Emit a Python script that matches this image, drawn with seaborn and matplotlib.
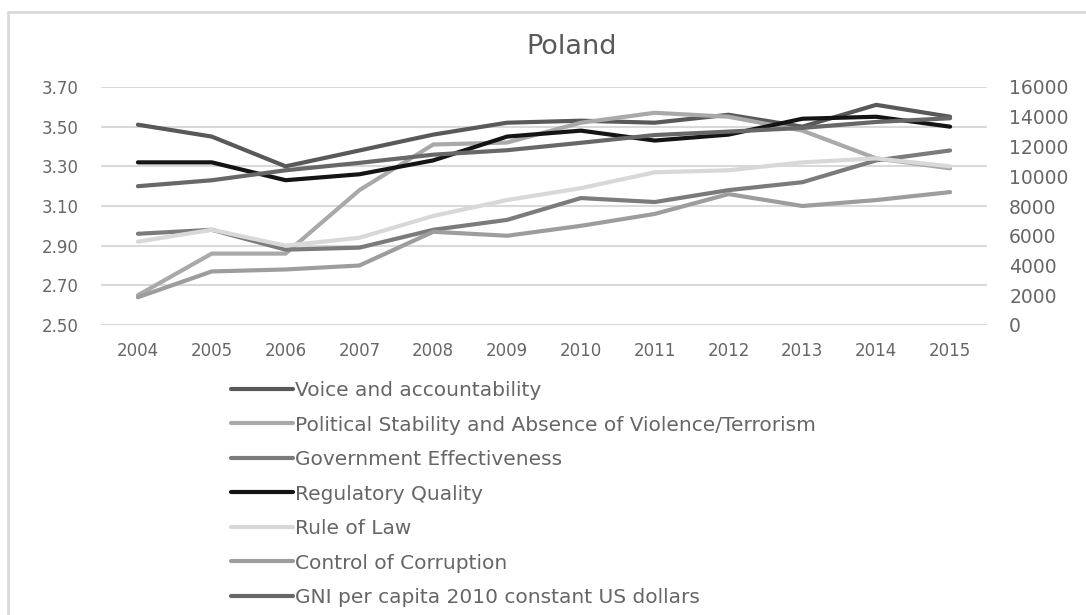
import matplotlib
matplotlib.use("Agg")
import matplotlib.pyplot as plt
import seaborn as sns
import pandas as pd
from matplotlib.lines import Line2D

# Worldwide Governance Indicators (shifted scale) and GNI per capita for Poland
years = [2004, 2005, 2006, 2007, 2008, 2009, 2010, 2011, 2012, 2013, 2014, 2015]
voice = [3.51, 3.45, 3.30, 3.38, 3.46, 3.52, 3.53, 3.52, 3.56, 3.50, 3.61, 3.55]
pol_stability = [2.65, 2.86, 2.86, 3.18, 3.41, 3.42, 3.52, 3.57, 3.55, 3.48, 3.34, 3.29]
gov_effect = [2.96, 2.98, 2.88, 2.89, 2.98, 3.03, 3.14, 3.12, 3.18, 3.22, 3.33, 3.38]
reg_quality = [3.32, 3.32, 3.23, 3.26, 3.33, 3.45, 3.48, 3.43, 3.46, 3.54, 3.55, 3.50]
rule_of_law = [2.92, 2.98, 2.90, 2.94, 3.05, 3.13, 3.19, 3.27, 3.28, 3.32, 3.34, 3.30]
corruption = [2.64, 2.77, 2.78, 2.80, 2.97, 2.95, 3.00, 3.06, 3.16, 3.10, 3.13, 3.17]
gni = [9330, 9730, 10400, 10900, 11450, 11750, 12250, 12770, 13000, 13250, 13650, 13900]

labels = [
    "Voice and accountability",
    "Political Stability and Absence of Violence/Terrorism",
    "Government Effectiveness",
    "Regulatory Quality",
    "Rule of Law",
    "Control of Corruption",
    "GNI per capita 2010 constant US dollars",
]
colors = ["#595959", "#a9a9a9", "#7b7b7b", "#141414", "#d8d8d8", "#9d9d9d", "#686868"]
left_series = [voice, pol_stability, gov_effect, reg_quality, rule_of_law, corruption]

sns.set_theme(style="white")
plt.rcParams["font.family"] = ["DejaVu Sans"]

W, H = 1086, 615
fig = plt.figure(figsize=(W / 100, H / 100), dpi=100)
fig.patch.set_facecolor("white")

ax_l, ax_r, ax_t, ax_b = 101, 987, 87, 325
ax = fig.add_axes([ax_l / W, 1 - ax_b / H, (ax_r - ax_l) / W, (ax_b - ax_t) / H])
ax2 = ax.twinx()

lw = 3.0
df = pd.DataFrame({"year": years})
handles = []
for lab, vals, col in zip(labels[:-1], left_series, colors[:-1]):
    df[lab] = vals
    sns.lineplot(data=df, x="year", y=lab, ax=ax, color=col, lw=lw,
                 solid_capstyle="round", solid_joinstyle="round")
    handles.append(Line2D([], [], color=col, lw=lw))
df[labels[-1]] = gni
sns.lineplot(data=df, x="year", y=labels[-1], ax=ax2, color=colors[-1], lw=lw,
             solid_capstyle="round", solid_joinstyle="round")
handles.append(Line2D([], [], color=colors[-1], lw=lw))

grey_txt = "#666666"
grid_col = "#d9d9d9"

ax.set_xlim(2003.5, 2015.5)
ax.set_ylim(2.5, 3.7)
ax2.set_ylim(0, 16000)
yt = [2.5, 2.7, 2.9, 3.1, 3.3, 3.5, 3.7]
ax.set_yticks(yt)
ax.set_yticklabels([f"{v:.2f}" for v in yt])
ax2.set_yticks(range(0, 16001, 2000))
ax2.set_yticklabels([str(v) for v in range(0, 16001, 2000)])
ax.set_xticks(years)
ax.set_xticklabels([str(y) for y in years])

for a in (ax, ax2):
    a.set_xlabel("")
    a.set_ylabel("")
    for s in a.spines.values():
        s.set_visible(False)
    a.patch.set_alpha(0)
ax.set_zorder(1)
ax2.set_zorder(2)

for v in yt:
    ax.axhline(v, color=grid_col, lw=1.5, zorder=0)

ax.tick_params(axis="y", length=0, pad=16, labelsize=12, labelcolor=grey_txt)
ax.tick_params(axis="x", length=0, pad=12, labelsize=12, labelcolor=grey_txt)
ax2.tick_params(axis="y", length=0, pad=16, labelsize=13.5, labelcolor=grey_txt)

fig.text(572 / W, 1 - 47 / H, "Poland", ha="center", va="center",
         fontsize=19.5, color="#595959")

fig.legend(handles, labels, loc="upper left",
           bbox_to_anchor=(231 / W, 1 - 381 / H), frameon=False,
           fontsize=14.5, labelcolor=grey_txt, handlelength=3.08,
           handletextpad=0.1, labelspacing=0.77, borderpad=0, borderaxespad=0)

# chart-area frame (left and top edges)
fig.add_artist(Line2D([8 / W, 8 / W], [0, 1 - 12 / H], color=grid_col, lw=2,
                      transform=fig.transFigure))
fig.add_artist(Line2D([8 / W, 1], [1 - 12 / H, 1 - 12 / H], color=grid_col, lw=2,
                      transform=fig.transFigure))

fig.savefig("out.png", dpi=100)
